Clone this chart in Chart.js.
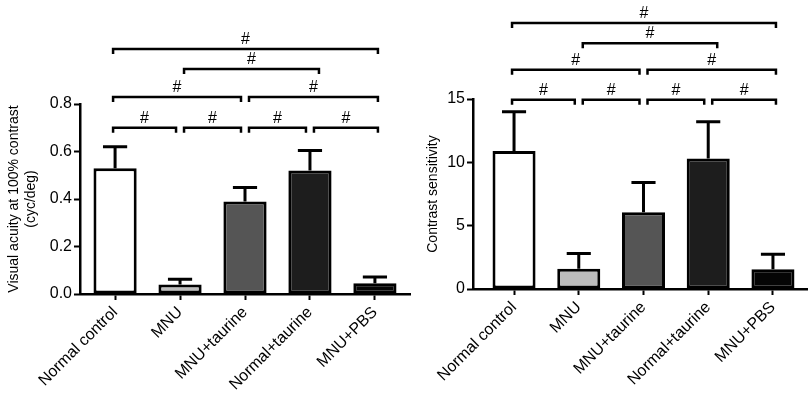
<!DOCTYPE html>
<html>
<head>
<meta charset="utf-8">
<script src="https://cdn.jsdelivr.net/npm/chart.js@4/dist/chart.umd.min.js"></script>
<style>
  body { margin: 0; background: #fff; }
  #wrap { position: relative; width: 810px; height: 394px; }
  canvas { position: absolute; top: 0; }
  #acuity { left: 0; }
  #sens { left: 415px; }
</style>
</head>
<body>
<div id="wrap">
  <canvas id="acuity" width="415" height="394"></canvas>
  <canvas id="sens" width="395" height="394"></canvas>
</div>
<script>
const categories = ["Normal control", "MNU", "MNU+taurine", "Normal+taurine", "MNU+PBS"];
const barColors = ["#ffffff", "#bcbcbc", "#555555", "#1d1d1d", "#050505"];

// visual acuity (cyc/deg), mean and SD (upper whisker only)
const acuityMean = [0.53, 0.04, 0.39, 0.52, 0.045];
const acuityErr = [0.09, 0.022, 0.058, 0.084, 0.027];
const acuityTicks = [0, 0.2, 0.4, 0.6, 0.8];

// contrast sensitivity
const sensMean = [10.9, 1.6, 6.05, 10.3, 1.55];
const sensErr = [3.1, 1.2, 2.35, 2.9, 1.2];
const sensTicks = [0, 5, 10, 15];

// significance brackets: [from, to, level in y units]
const acuityBrackets = [
  [0, 1, 0.70], [1, 2, 0.70], [2, 3, 0.70], [3, 4, 0.70],
  [0, 2, 0.83], [2, 4, 0.83],
  [1, 3, 0.947],
  [0, 4, 1.032]
];
const sensBrackets = [
  [0, 1, 14.95], [1, 2, 14.95], [2, 3, 14.95], [3, 4, 14.95],
  [0, 2, 17.3], [2, 4, 17.3],
  [1, 3, 19.4],
  [0, 4, 21.0]
];

const FONT = "'Liberation Sans', Arial, sans-serif";

const errorBars = {
  id: "errorBars",
  afterDatasetsDraw(chart, args, opts) {
    const ctx = chart.ctx;
    const y = chart.scales.y;
    const meta = chart.getDatasetMeta(0);
    ctx.save();
    ctx.strokeStyle = "#000";
    ctx.lineWidth = 3;
    meta.data.forEach((bar, i) => {
      const top = y.getPixelForValue(opts.means[i] + opts.errs[i]);
      const half = bar.width * 0.28;
      ctx.beginPath();
      ctx.moveTo(bar.x, bar.y);
      ctx.lineTo(bar.x, top);
      ctx.moveTo(bar.x - half, top);
      ctx.lineTo(bar.x + half, top);
      ctx.stroke();
    });
    ctx.restore();
  }
};

const brackets = {
  id: "brackets",
  afterDraw(chart, args, opts) {
    const ctx = chart.ctx;
    const x = chart.scales.x;
    const y = chart.scales.y;
    const last = categories.length - 1;
    ctx.save();
    ctx.strokeStyle = "#000";
    ctx.fillStyle = "#000";
    ctx.lineWidth = 2.5;
    ctx.font = "16px " + FONT;
    ctx.textAlign = "center";
    ctx.textBaseline = "alphabetic";
    opts.list.forEach(([a, b, lv]) => {
      const middle = a !== 0 && b !== last && b - a > 1;
      const x1 = x.getPixelForValue(a) + (a === 0 ? -2 : 4);
      const x2 = x.getPixelForValue(b) + (b === last ? 3 : middle ? 9 : -4);
      const py = y.getPixelForValue(lv);
      ctx.beginPath();
      ctx.moveTo(x1, py + 5);
      ctx.lineTo(x1, py);
      ctx.lineTo(x2, py);
      ctx.lineTo(x2, py + 5);
      ctx.stroke();
      ctx.fillText("#", (x1 + x2) / 2, py - 5);
    });
    ctx.restore();
  }
};

function makeChart(id, means, errs, list, yMax, step, fmt, title, dims) {
  new Chart(document.getElementById(id), {
    type: "bar",
    data: {
      datasets: [{
        data: means.map((v, i) => ({ x: i, y: v })),
        backgroundColor: barColors,
        borderColor: "#000",
        borderWidth: 3,
        borderSkipped: false,
        categoryPercentage: 1,
        barPercentage: 0.665
      }]
    },
    options: {
      responsive: false,
      animation: false,
      layout: { padding: { left: 0, top: dims.top, right: dims.right, bottom: 0 } },
      plugins: {
        legend: { display: false },
        tooltip: { enabled: false },
        errorBars: { means: means, errs: errs },
        brackets: { list: list }
      },
      scales: {
        x: {
          type: "linear",
          offset: false,
          min: dims.xmin, max: dims.xmax,
          afterFit: (s) => { s.height = dims.xh; },
          afterBuildTicks: (s) => { s.ticks = categories.map((c, i) => ({ value: i })); },
          grid: {
            display: true, offset: false, drawOnChartArea: false,
            drawTicks: true, tickLength: 6, tickColor: "#000", tickWidth: 2
          },
          border: { display: true, color: "#000", width: 2.5 },
          ticks: {
            autoSkip: false, minRotation: 45, maxRotation: 45, padding: 3,
            color: "#000", font: { family: FONT, size: 16 },
            callback: (v) => categories[v]
          }
        },
        y: {
          min: 0, max: yMax,
          afterFit: (s) => { s.width = dims.yw; },
          grid: {
            display: true, drawOnChartArea: false,
            drawTicks: true, tickLength: 6, tickColor: "#000", tickWidth: 2
          },
          border: { display: true, color: "#000", width: 2.5 },
          ticks: {
            stepSize: step, padding: 2, color: "#000",
            font: { family: FONT, size: 16 },
            callback: fmt
          },
          title: {
            display: true, text: title, color: "#000",
            font: { family: FONT, size: 14 }, padding: { top: dims.tpad, bottom: 0 }
          }
        }
      }
    },
    plugins: [errorBars, brackets]
  });
}

makeChart("acuity", acuityMean, acuityErr, acuityBrackets, 0.8, 0.2,
  (v) => v.toFixed(1),
  ["Visual acuity at 100% contrast", "(cyc/deg)"],
  { top: 104, right: 5, xh: 100, yw: 80, xmin: -0.54, xmax: 4.54, tpad: 6 });

makeChart("sens", sensMean, sensErr, sensBrackets, 15, 5,
  (v) => v,
  "Contrast sensitivity",
  { top: 99, right: 3, xh: 105, yw: 58, xmin: -0.634, xmax: 4.526, tpad: 10 });
</script>
</body>
</html>
